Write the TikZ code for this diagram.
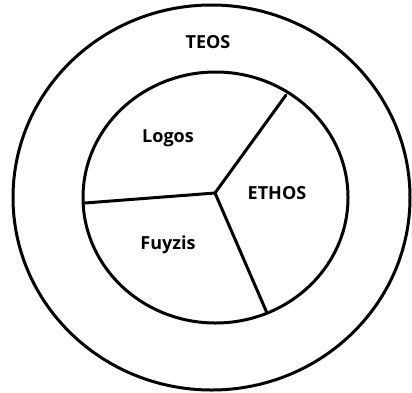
\documentclass[tikz,border=0pt]{standalone}
\usepackage{fontspec}
\setmainfont{Open Sans}
\begin{document}
\begin{tikzpicture}[x=1pt,y=-1pt,
  ring/.style={draw=black,line width=3pt},
  spoke/.style={draw=black,line width=3pt,line cap=round},
  lbl/.style={font=\fontsize{18}{21}\selectfont\bfseries,inner sep=0pt}]
\useasboundingbox (0,0) rectangle (412,392);
\coordinate (c) at (215,193);
\coordinate (p1) at (286,95);
\coordinate (p2) at (85,203);
\coordinate (p3) at (267,313);
\draw[ring] (211.5,197.5) ellipse [x radius=198.5, y radius=192.5];
\draw[ring] (215.5,197.5) ellipse [x radius=132.5, y radius=125.5];
\draw[spoke] (c) -- (p1);
\draw[spoke] (c) -- (p2);
\draw[spoke] (c) -- (p3);
\node[lbl] (teos) at (208,42) {TEOS};
\node[lbl] (logos) at (168,138) {Logos};
\node[lbl] (ethos) at (277,193) {ETHOS};
\node[lbl] (fuyzis) at (168,245) {Fuyzis};
\end{tikzpicture}
\end{document}
